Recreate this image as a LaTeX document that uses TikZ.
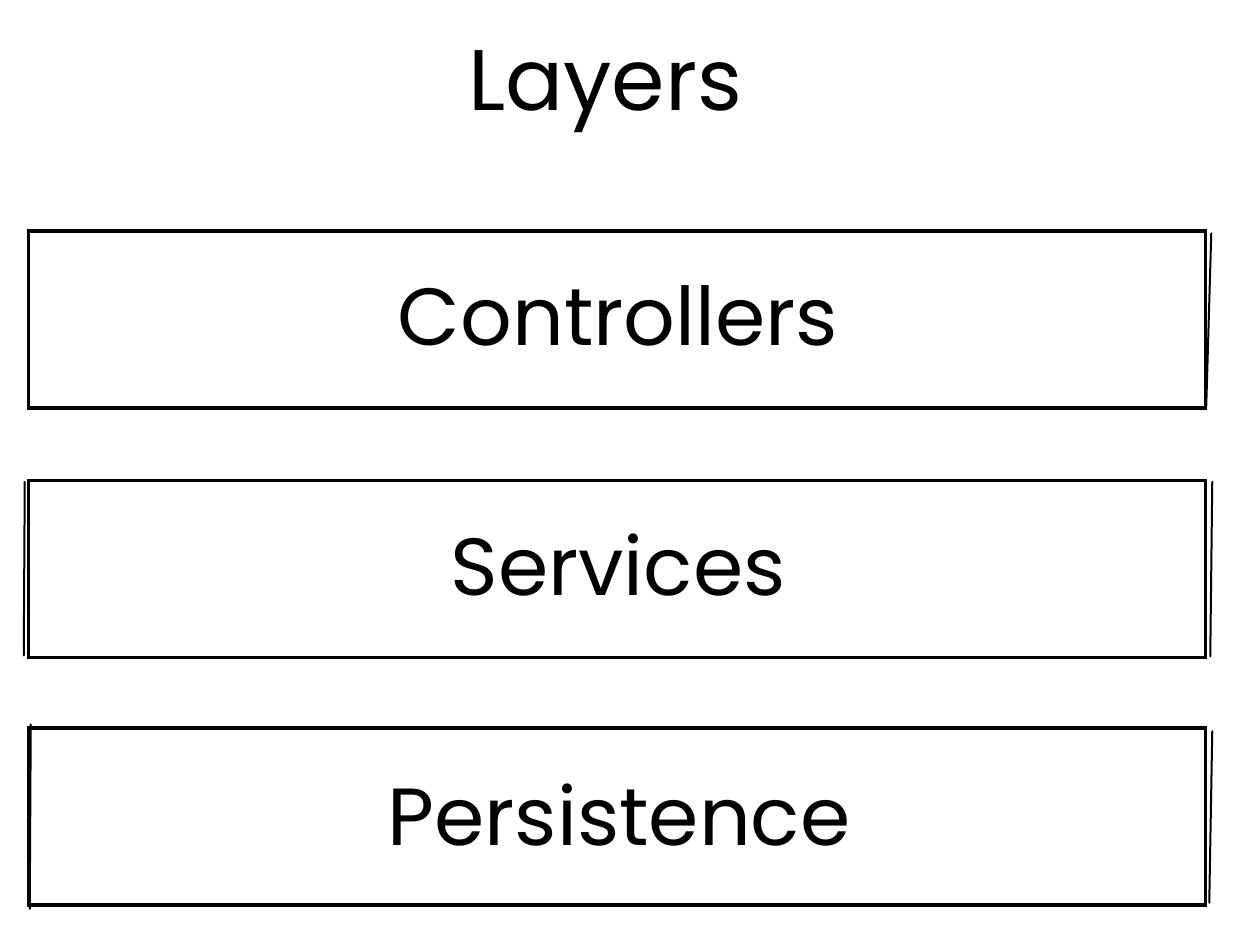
\documentclass[tikz,border=0pt]{standalone}
\usepackage{fontspec}
\setmainfont{Poppins}
\begin{document}
\begin{tikzpicture}[x=1pt,y=-1pt,
  layerbox/.style={draw=black,line width=3.5pt,rectangle,inner sep=0pt,minimum width=1177pt,minimum height=177pt},
  layertext/.style={anchor=base,inner sep=0pt,font=\fontsize{81}{96}\selectfont},
  sketch/.style={draw=black,line width=2pt,line cap=round}]
\useasboundingbox (0,0) rectangle (1236,935);
\node[layertext,font=\fontsize{86}{100}\selectfont] (title) at (605,110) {Layers};
\node[layerbox] (ctrl) at (617,319.5) {};
\node[layerbox] (serv) at (617,569) {};
\node[layerbox] (pers) at (617,816.5) {};
\node[layertext] (ctrlt) at (618,345) {Controllers};
\node[layertext] (servt) at (618,595) {Services};
\node[layertext] (perst) at (619,845) {Persistence};
% sketchy overstrokes
\draw[sketch] ([xshift=4pt,yshift=-4pt]ctrl.north east) -- ([xshift=-1pt,yshift=4pt]ctrl.south east);
\draw[sketch] ([xshift=-2pt,yshift=-3pt]serv.north west) -- ([xshift=-3pt,yshift=4pt]serv.south west);
\draw[sketch] ([xshift=5pt,yshift=-3pt]serv.north east) -- ([xshift=3pt,yshift=3pt]serv.south east);
\draw[sketch] ([xshift=5pt,yshift=-5pt]pers.north east) -- ([xshift=2pt,yshift=4pt]pers.south east);
\draw[sketch] ([xshift=4pt,yshift=2pt]pers.north west) -- ([xshift=3pt,yshift=-2pt]pers.south west);
\end{tikzpicture}
\end{document}
